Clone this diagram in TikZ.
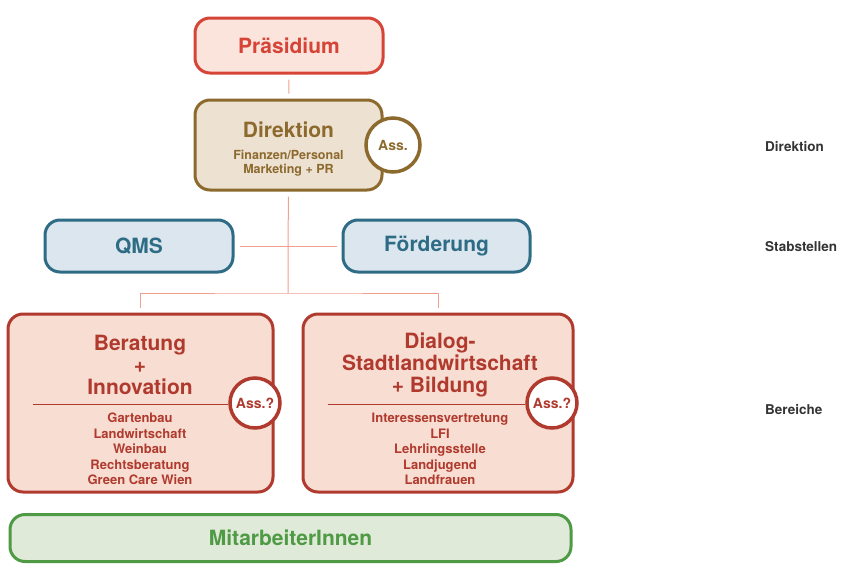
\documentclass[tikz,border=0pt]{standalone}
\usepackage{fontspec}
\setmainfont{TeX Gyre Heros}
\usetikzlibrary{positioning}
\usepackage{xcolor}
\definecolor{praesred}{RGB}{214,68,56}
\definecolor{praesfill}{RGB}{251,228,219}
\definecolor{direkbrown}{RGB}{140,106,46}
\definecolor{direkfill}{RGB}{237,225,210}
\definecolor{stabblue}{RGB}{46,108,134}
\definecolor{stabfill}{RGB}{220,230,238}
\definecolor{berred}{RGB}{176,58,46}
\definecolor{berfill}{RGB}{248,221,210}
\definecolor{mitgreen}{RGB}{78,154,69}
\definecolor{mitfill}{RGB}{224,234,216}
\definecolor{connred}{RGB}{240,160,145}

\begin{document}
\begin{tikzpicture}[x=1pt, y=-1pt,
  mybox/.style={draw, rounded corners=15pt, line width=3pt, align=center, font=\bfseries\fontsize{21}{22}\selectfont, inner sep=0pt},
  assnode/.style={draw, circle, fill=white, line width=3.5pt, inner sep=0pt, font=\bfseries\fontsize{14}{14}\selectfont},
  itemnode/.style={align=center, font=\bfseries\fontsize{13}{15.5}\selectfont, inner sep=0pt},
  levelnode/.style={anchor=west, text=black!80, font=\bfseries\fontsize{13.5}{14}\selectfont, inner sep=0pt},
  conn/.style={connred, line width=1pt, shorten >=5pt, shorten <=5pt},]

    \useasboundingbox (0,0) rectangle (847,563);

    \node[mybox, draw=praesred, fill=praesfill, text=praesred, minimum width=188, minimum height=55](praes) at (289,45.5) {Präsidium};

    \node[mybox, draw=direkbrown, fill=direkfill, text=direkbrown, minimum width=187, minimum height=90](direk) at (288.5,145) {};
    \node[text=direkbrown, font=\bfseries\fontsize{21}{22}\selectfont, inner sep=0pt](direktitle) at (288.5,130) {Direktion};
    \node[itemnode, text=direkbrown, font=\bfseries\fontsize{12.5}{14}\selectfont](direkitems) at (288.5,163) {Finanzen/Personal\\Marketing + PR};
    \node[assnode, draw=direkbrown, text=direkbrown, minimum size=54](direkass) at (393,145) {Ass.};

    \node[mybox, draw=stabblue, fill=stabfill, text=stabblue, minimum width=188, minimum height=52](qms) at (139,246) {QMS};
    \node[mybox, draw=stabblue, fill=stabfill, text=stabblue, minimum width=187, minimum height=52](foerd) at (436.5,246) {Förderung};

    \node[mybox, draw=berred, fill=berfill, minimum width=265, minimum height=178](berat) at (140.5,403) {};
    \node[mybox, draw=none, fill=none, text=berred](berattitle) at (140,364.5) {Beratung\\+\\Innovation};
    \node[itemnode, text=berred](beratitems) at (140,449) {Gartenbau\\Landwirtschaft\\Weinbau\\Rechtsberatung\\Green Care Wien};
    \node[assnode, draw=berred, text=berred, minimum size=50](beratass) at (255,403) {Ass.?};
    \coordinate (beratline) at (33,404);
    \draw[berred, line width=1pt] (beratline) -- (beratline -| beratass.west);

    \node[mybox, draw=berred, fill=berfill, minimum width=270, minimum height=178](dialog) at (438,403) {};
    \node[mybox, draw=none, fill=none, text=berred](dialogtitle) at (440,364.5) {Dialog-\\Stadtlandwirtschaft\\+ Bildung};
    \node[itemnode, text=berred](dialogitems) at (440,449) {Interessensvertretung\\LFI\\Lehrlingsstelle\\Landjugend\\Landfrauen};
    \node[assnode, draw=berred, text=berred, minimum size=50](dialogass) at (552,403) {Ass.?};
    \coordinate (dialogline) at (328,404);
    \draw[berred, line width=1pt] (dialogline) -- (dialogline -| dialogass.west);

    \node[mybox, draw=mitgreen, fill=mitfill, text=mitgreen, minimum width=561, minimum height=47](mitarb) at (290.5,538) {MitarbeiterInnen};

    \coordinate (split) at (288,293);
    \draw[conn] (praes) -- (direk);
    \draw[conn, shorten >=0pt] (direk) -- (split);
    \draw[conn] (qms) -- (foerd);
    \draw[conn] (berat.north) |- (split) -| (dialog.north);

    \node[levelnode](lvldirek) at (765,147) {Direktion};
    \node[levelnode](lvlstab) at (765,247) {Stabstellen};
    \node[levelnode](lvlber) at (765,410) {Bereiche};

\end{tikzpicture}
\end{document}
